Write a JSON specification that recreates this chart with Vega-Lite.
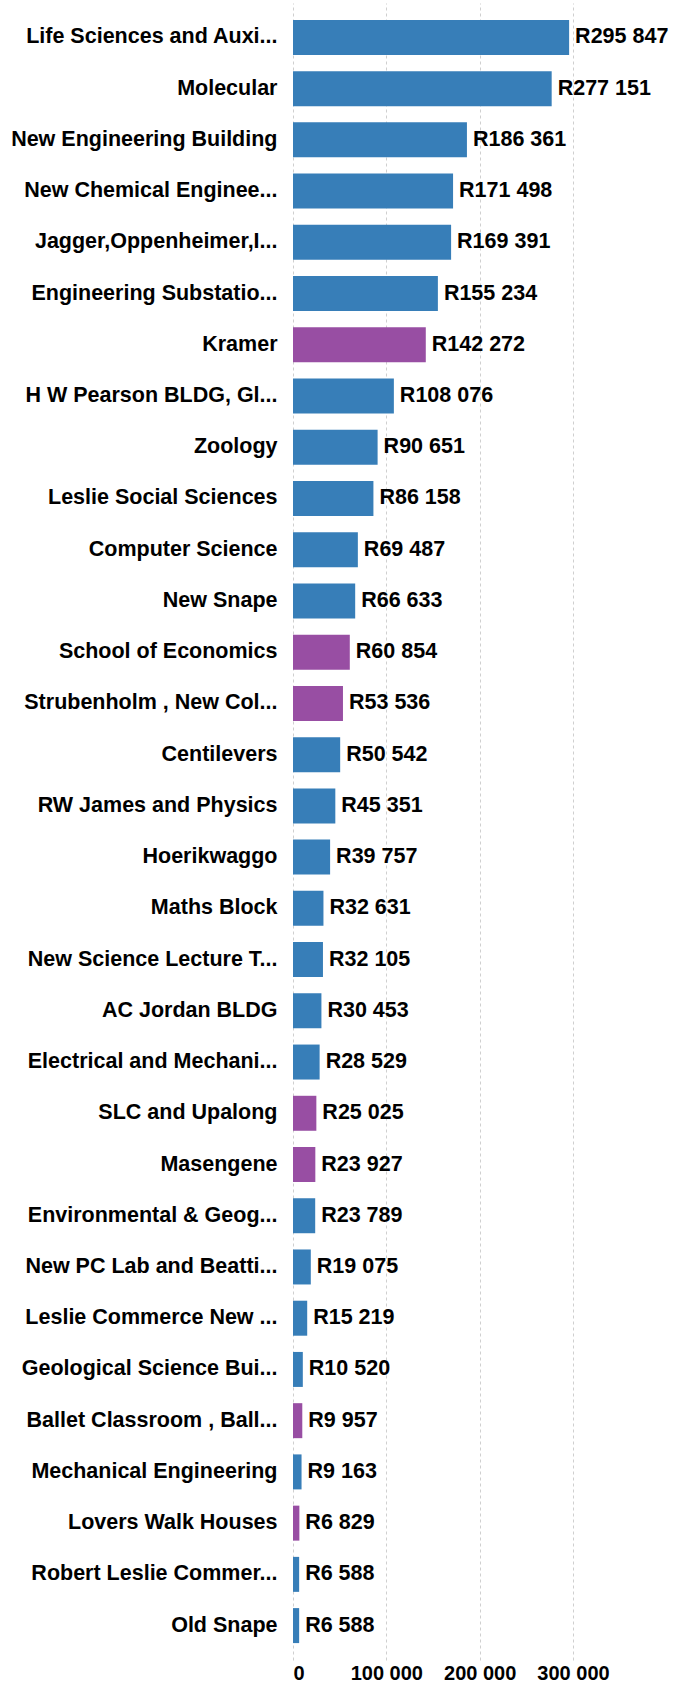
{
  "$schema": "https://vega.github.io/schema/vega-lite/v6.json",
  "autosize": {"type": "none"},
  "padding": {"left": 293, "top": 3, "right": 54, "bottom": 24},
  "width": 336,
  "height": 1657,
  "background": "white",
  "config": {
    "locale": {"number": {"decimal": ".", "thousands": " ", "grouping": [3], "currency": ["R", ""]}},
    "view": {"stroke": null},
    "font": "Liberation Sans"
  },
  "data": {
    "values": [
      {"building": "Life Sciences and Auxi...", "cost": 295847, "group": "A"},
      {"building": "Molecular", "cost": 277151, "group": "A"},
      {"building": "New Engineering Building", "cost": 186361, "group": "A"},
      {"building": "New Chemical Enginee...", "cost": 171498, "group": "A"},
      {"building": "Jagger,Oppenheimer,I...", "cost": 169391, "group": "A"},
      {"building": "Engineering Substatio...", "cost": 155234, "group": "A"},
      {"building": "Kramer", "cost": 142272, "group": "B"},
      {"building": "H W Pearson BLDG, Gl...", "cost": 108076, "group": "A"},
      {"building": "Zoology", "cost": 90651, "group": "A"},
      {"building": "Leslie Social Sciences", "cost": 86158, "group": "A"},
      {"building": "Computer Science", "cost": 69487, "group": "A"},
      {"building": "New Snape", "cost": 66633, "group": "A"},
      {"building": "School of Economics", "cost": 60854, "group": "B"},
      {"building": "Strubenholm , New Col...", "cost": 53536, "group": "B"},
      {"building": "Centilevers", "cost": 50542, "group": "A"},
      {"building": "RW James and Physics", "cost": 45351, "group": "A"},
      {"building": "Hoerikwaggo", "cost": 39757, "group": "A"},
      {"building": "Maths Block", "cost": 32631, "group": "A"},
      {"building": "New Science Lecture T...", "cost": 32105, "group": "A"},
      {"building": "AC Jordan BLDG", "cost": 30453, "group": "A"},
      {"building": "Electrical and Mechani...", "cost": 28529, "group": "A"},
      {"building": "SLC and Upalong", "cost": 25025, "group": "B"},
      {"building": "Masengene", "cost": 23927, "group": "B"},
      {"building": "Environmental & Geog...", "cost": 23789, "group": "A"},
      {"building": "New PC Lab and Beatti...", "cost": 19075, "group": "A"},
      {"building": "Leslie Commerce New ...", "cost": 15219, "group": "A"},
      {"building": "Geological Science Bui...", "cost": 10520, "group": "A"},
      {"building": "Ballet Classroom , Ball...", "cost": 9957, "group": "B"},
      {"building": "Mechanical Engineering", "cost": 9163, "group": "A"},
      {"building": "Lovers Walk Houses", "cost": 6829, "group": "B"},
      {"building": "Robert Leslie Commer...", "cost": 6588, "group": "A"},
      {"building": "Old Snape", "cost": 6588, "group": "A"}
    ]
  },
  "encoding": {
    "y": {
      "field": "building",
      "type": "nominal",
      "sort": null,
      "scale": {"paddingInner": 0.317, "paddingOuter": 0.33},
      "axis": {
        "title": null,
        "domain": false,
        "ticks": false,
        "labelPadding": 16,
        "labelFont": "Liberation Sans",
        "labelFontSize": 21.5,
        "labelFontWeight": "bold",
        "labelColor": "#000000",
        "labelLimit": 300
      }
    },
    "x": {
      "field": "cost",
      "type": "quantitative",
      "scale": {"domain": [0, 360000], "nice": false},
      "axis": {
        "title": null,
        "values": [0, 100000, 200000, 300000],
        "format": ",.0f",
        "domain": false,
        "ticks": false,
        "labelPadding": 3.5,
        "labelFont": "Liberation Sans",
        "labelFontSize": 20,
        "labelFontWeight": "bold",
        "labelColor": "#000000",
        "labelBaseline": "top",
        "grid": true,
        "gridColor": "#cfcfcf",
        "gridDash": [3, 3],
        "gridWidth": 1
      }
    }
  },
  "layer": [
    {
      "mark": {"type": "bar"},
      "encoding": {
        "color": {
          "field": "group",
          "type": "nominal",
          "scale": {"domain": ["A", "B"], "range": ["#377eb8", "#984ea3"]},
          "legend": null
        }
      }
    },
    {
      "mark": {
        "type": "text",
        "align": "left",
        "baseline": "middle",
        "dx": 6,
        "font": "Liberation Sans",
        "fontSize": 21.5,
        "fontWeight": "bold",
        "color": "#000000"
      },
      "encoding": {
        "text": {"field": "cost", "type": "quantitative", "format": "$,.0f"}
      }
    }
  ]
}
